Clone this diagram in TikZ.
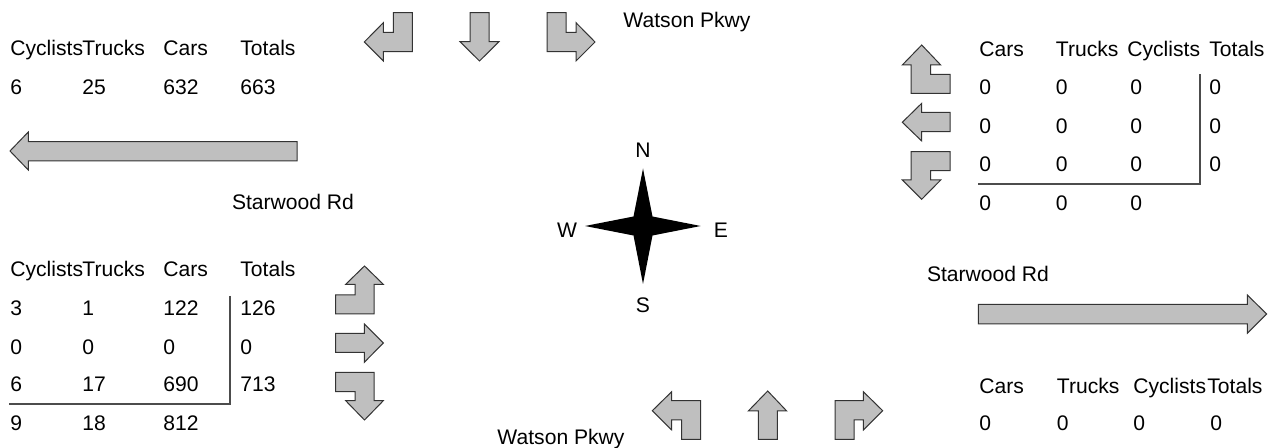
\documentclass[tikz,border=0pt]{standalone}
\usepackage{fontspec}
\setmainfont{Liberation Sans}
\begin{document}
\begin{tikzpicture}[x=0.5pt,y=-0.5pt,
  lbl/.style={inner sep=0pt,anchor=base west,font=\fontsize{10.55}{12}\selectfont},
  clbl/.style={inner sep=0pt,anchor=base,font=\fontsize{10.55}{12}\selectfont},
  arr/.style={draw=black!80,fill=black!25,line width=0.5pt,line join=miter},
  tline/.style={draw=black!70,line width=0.6pt}]
\useasboundingbox (0,0) rectangle (1281,448);
% ---------- top approach arrows ----------
\draw[arr] (393.3,12.7)--(412.3,12.7)--(412.3,51.7)--(383.3,51.7)--(383.3,61)--(364.3,42)--(383.3,22.7)--(383.3,32.3)--(393.3,32.3)--cycle;
\draw[arr] (470,12.7)--(489,12.7)--(489,41.7)--(499,41.7)--(479.5,61)--(460,41.7)--(470,41.7)--cycle;
\draw[arr] (547,12.7)--(566,12.7)--(566,32.3)--(576,32.3)--(576,22.7)--(595,42)--(576,61)--(576,51.7)--(547,51.7)--cycle;
% ---------- west approach arrows ----------
\draw[arr] (335.7,295)--(355,295)--(355,284.3)--(345.7,284.3)--(364.5,266)--(383.3,284.3)--(374,284.3)--(374,314)--(335.7,314)--cycle;
\draw[arr] (335.7,333.3)--(364.3,333.3)--(364.3,324)--(383.3,343)--(364.3,362.3)--(364.3,352.3)--(335.7,352.3)--cycle;
\draw[arr] (335.7,372.3)--(374,372.3)--(374,400.7)--(383.3,400.7)--(364.5,420)--(345.7,400.7)--(355,400.7)--(355,391.7)--(335.7,391.7)--cycle;
% ---------- east approach arrows ----------
\draw[arr] (902.3,65)--(921.7,45)--(940.7,65)--(930.7,65)--(930.7,74.3)--(950,74.3)--(950,93.3)--(911,93.3)--(911,65)--cycle;
\draw[arr] (902.3,122.3)--(921.7,103.3)--(921.7,112.3)--(950,112.3)--(950,131.7)--(921.7,131.7)--(921.7,141)--cycle;
\draw[arr] (911,151.7)--(950,151.7)--(950,170.7)--(930.7,170.7)--(930.7,180)--(940.7,180)--(921.7,199.3)--(902.3,180)--(911,180)--cycle;
% ---------- bottom approach arrows ----------
\draw[arr] (652.3,410.7)--(671.7,391.7)--(671.7,400.7)--(700.7,400.7)--(700.7,439.3)--(681.7,439.3)--(681.7,420)--(671.7,420)--(671.7,430)--cycle;
\draw[arr] (767.7,391)--(786.7,411)--(777.3,411)--(777.3,439.3)--(758.3,439.3)--(758.3,411)--(748.3,411)--cycle;
\draw[arr] (835,439.3)--(835,400.7)--(863.3,400.7)--(863.3,391.7)--(882.7,410.7)--(863.3,430)--(863.3,420)--(854,420)--(854,439.3)--cycle;
% ---------- long arrows ----------
\draw[arr] (10,151)--(28.3,132)--(28.3,141.7)--(297,141.7)--(297,161)--(28.3,161)--(28.3,170)--cycle;
\draw[arr] (978.3,304.3)--(1247.3,304.3)--(1247.3,295)--(1266.7,314)--(1247.3,333.3)--(1247.3,324)--(978.3,324)--cycle;
% ---------- compass ----------
\fill[black] (643,168.5)--(652.5,216.5)--(700.7,226)--(652.5,235.5)--(643,284)--(633.5,235.5)--(585,226)--(633.5,216.5)--cycle;
\node[clbl] (cN) at (643,157.4) {N};
\node[clbl] (cS) at (643,312.4) {S};
\node[clbl] (cW) at (567,237.4) {W};
\node[clbl] (cE) at (721,237.4) {E};
% ---------- street labels ----------
\node[clbl] (wpT) at (687,27.4) {Watson Pkwy};
\node[clbl] (wpB) at (561,444.4) {Watson Pkwy};
\node[clbl] (srL) at (293,209.4) {Starwood Rd};
\node[clbl] (srR) at (988,281.4) {Starwood Rd};
% ---------- top-left table ----------
\node[lbl] (a11) at (10,55.4) {Cyclists};
\node[lbl] (a12) at (82,55.4) {Trucks};
\node[lbl] (a13) at (163,55.4) {Cars};
\node[lbl] (a14) at (240,55.4) {Totals};
\node[lbl] (a21) at (10,94.4) {6};
\node[lbl] (a22) at (82,94.4) {25};
\node[lbl] (a23) at (163,94.4) {632};
\node[lbl] (a24) at (240,94.4) {663};
% ---------- bottom-left table ----------
\node[lbl] (b11) at (10,276.4) {Cyclists};
\node[lbl] (b12) at (82,276.4) {Trucks};
\node[lbl] (b13) at (163,276.4) {Cars};
\node[lbl] (b14) at (240,276.4) {Totals};
\node[lbl] (b21) at (10,315.4) {3};
\node[lbl] (b22) at (82,315.4) {1};
\node[lbl] (b23) at (163,315.4) {122};
\node[lbl] (b24) at (240,315.4) {126};
\node[lbl] (b31) at (10,354.4) {0};
\node[lbl] (b32) at (82,354.4) {0};
\node[lbl] (b33) at (163,354.4) {0};
\node[lbl] (b34) at (240,354.4) {0};
\node[lbl] (b41) at (10,391.4) {6};
\node[lbl] (b42) at (82,391.4) {17};
\node[lbl] (b43) at (163,391.4) {690};
\node[lbl] (b44) at (240,391.4) {713};
\node[lbl] (b51) at (10,430.4) {9};
\node[lbl] (b52) at (82,430.4) {18};
\node[lbl] (b53) at (163,430.4) {812};
\draw[tline] (230,296)--(230,404)--(9,404);
% ---------- top-right table ----------
\node[lbl] (c11) at (979,56.4) {Cars};
\node[lbl] (c12) at (1055.5,56.4) {Trucks};
\node[lbl] (c13) at (1127,56.4) {Cyclists};
\node[lbl] (c14) at (1209,56.4) {Totals};
\foreach \r/\yy in {2/94.4,3/133.1,4/171.4} {
  \node[lbl] (c\r1) at (979,\yy) {0};
  \node[lbl] (c\r2) at (1055.5,\yy) {0};
  \node[lbl] (c\r3) at (1130,\yy) {0};
  \node[lbl] (c\r4) at (1209,\yy) {0};
}
\node[lbl] (c51) at (979,210.7) {0};
\node[lbl] (c52) at (1055.5,210.7) {0};
\node[lbl] (c53) at (1130,210.7) {0};
\draw[tline] (1200,74.3)--(1200,184)--(978.3,184);
% ---------- bottom-right table ----------
\node[lbl] (d11) at (979,393.4) {Cars};
\node[lbl] (d12) at (1056.5,393.4) {Trucks};
\node[lbl] (d13) at (1133,393.4) {Cyclists};
\node[lbl] (d14) at (1207,393.4) {Totals};
\node[lbl] (d21) at (979,430.7) {0};
\node[lbl] (d22) at (1056.5,430.7) {0};
\node[lbl] (d23) at (1133,430.7) {0};
\node[lbl] (d24) at (1210,430.7) {0};
\end{tikzpicture}
\end{document}
